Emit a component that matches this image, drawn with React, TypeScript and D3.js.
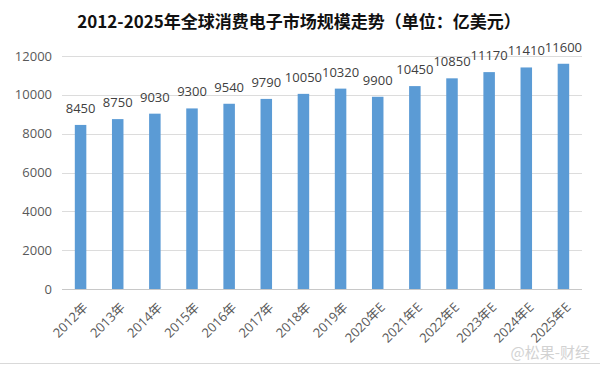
import * as d3 from 'd3';
import { useEffect, useRef } from 'react';

const years = ['2012年', '2013年', '2014年', '2015年', '2016年', '2017年', '2018年', '2019年', '2020年E', '2021年E', '2022年E', '2023年E', '2024年E', '2025年E'];
const values = [8450, 8750, 9030, 9300, 9540, 9790, 10050, 10320, 9900, 10450, 10850, 11170, 11410, 11600];
const yTicks = [0, 2000, 4000, 6000, 8000, 10000, 12000];
const title = '2012-2025年全球消费电子市场规模走势（单位：亿美元）';

export default function App() {
  const ref = useRef<SVGSVGElement | null>(null);
  useEffect(() => {
    if (!ref.current) return;
    const svg = d3.select(ref.current);
    svg.selectAll('*').remove();
    const width = 600;
    const height = 366;
    const font = '"Open Sans", "Noto Sans CJK SC", sans-serif';

    svg.append('rect').attr('width', width).attr('height', height).attr('fill', '#ffffff');

    const x = d3.scaleBand<string>().domain(years).range([62, 582]).paddingInner(0.69).paddingOuter(0.345);
    const y = d3.scaleLinear().domain([0, 12000]).range([289, 56]);

    // title
    svg
      .append('text')
      .attr('x', 299)
      .attr('y', 28)
      .attr('text-anchor', 'middle')
      .attr('font-family', '"Noto Sans CJK SC", sans-serif')
      .attr('font-weight', 'bold')
      .attr('font-size', 17)
      .attr('fill', '#111')
      .text(title);

    // gridlines
    svg
      .append('g')
      .selectAll('line')
      .data(yTicks)
      .join('line')
      .attr('x1', 62)
      .attr('x2', 582)
      .attr('y1', (d) => Math.round(y(d)) + 0.5)
      .attr('y2', (d) => Math.round(y(d)) + 0.5)
      .attr('stroke', (d) => (d === 0 ? '#c8c8c8' : '#dcdcdc'))
      .attr('stroke-width', 1);

    // y tick labels
    svg
      .append('g')
      .selectAll('text')
      .data(yTicks)
      .join('text')
      .attr('x', 52)
      .attr('y', (d) => y(d))
      .attr('dy', '0.35em')
      .attr('text-anchor', 'end')
      .attr('font-family', font)
      .attr('font-size', 13)
      .attr('fill', '#595959')
      .text((d) => d);

    // bars
    svg
      .append('g')
      .selectAll('rect')
      .data(values)
      .join('rect')
      .attr('x', (_, i) => x(years[i])!)
      .attr('y', (d) => y(d))
      .attr('width', x.bandwidth())
      .attr('height', (d) => y(0) - y(d))
      .attr('fill', '#5b9bd5');

    // value labels
    svg
      .append('g')
      .selectAll('text')
      .data(values)
      .join('text')
      .attr('x', (_, i) => x(years[i])! + x.bandwidth() / 2)
      .attr('y', (d) => y(d) - 12)
      .attr('text-anchor', 'middle')
      .attr('font-family', font)
      .attr('font-size', 13)
      .attr('fill', '#404040')
      .text((d) => d);

    // x labels
    svg
      .append('g')
      .selectAll('text')
      .data(years)
      .join('text')
      .attr('transform', (d) => `translate(${x(d)! + x.bandwidth() / 2 + 5},${305}) rotate(-45)`)
      .attr('text-anchor', 'end')
      .attr('dy', '0.35em')
      .attr('font-family', font)
      .attr('font-size', 13)
      .attr('fill', '#595959')
      .text((d) => d);

    // bottom cell line
    svg.append('line').attr('x1', 0).attr('x2', width).attr('y1', 363.5).attr('y2', 363.5).attr('stroke', '#d9d9d9');

    // watermark
    svg
      .append('text')
      .attr('x', 590)
      .attr('y', 358)
      .attr('text-anchor', 'end')
      .attr('font-family', '"Noto Sans CJK SC", sans-serif')
      .attr('font-size', 15)
      .attr('fill', '#c8c8c8')
      .attr('opacity', 0.8)
      .text('@松果-财经');
  }, []);

  return <svg ref={ref} width={600} height={366} style={{ position: 'absolute', left: 0, top: 0 }} />;
}
